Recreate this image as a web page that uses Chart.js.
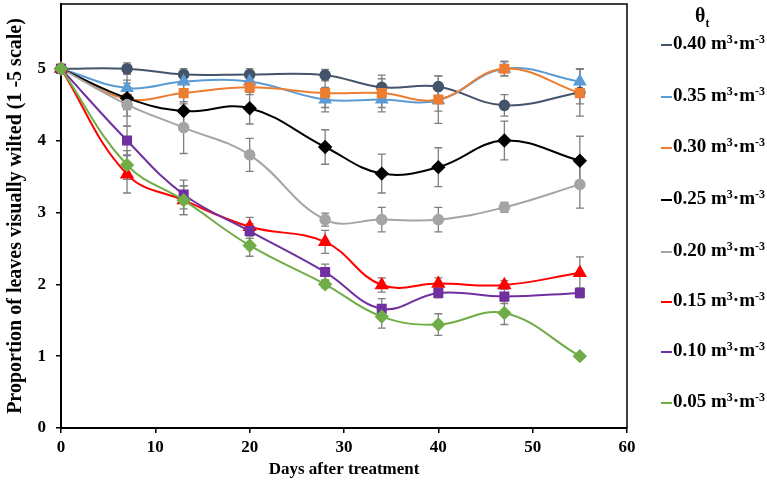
<!DOCTYPE html>
<html>
<head>
<meta charset="utf-8">
<script src="https://cdn.jsdelivr.net/npm/chart.js@4/dist/chart.umd.min.js"></script>
<style>
  body { margin: 0; background: #fff; }
  #wrap { position: relative; width: 767px; height: 484px; }
  #legend { position: absolute; left: 661px; top: 0; width: 106px; font-family: "Liberation Serif", "Times New Roman", serif; font-weight: bold; font-size: 19px; color: #000; }
  #legend .title { position: absolute; left: 34px; top: 4px; font-size: 20px; }
  #legend .title sub { font-size: 12px; }
  #legend .item { position: absolute; left: 0; white-space: nowrap; line-height: 20px; }
  #legend .item i { display: inline-block; width: 11px; height: 2px; vertical-align: middle; margin-right: 1px; }
  #legend sup { font-size: 12px; vertical-align: 6px; line-height: 0; }
</style>
</head>
<body>
<div id="wrap">
  <canvas id="myChart" width="767" height="484"></canvas>
  <div id="legend"></div>
</div>
<script>
// data
const days = [0, 7, 13, 20, 28, 34, 40, 47, 55];
const seriesNames = ['0.40', '0.35', '0.30', '0.25', '0.20', '0.15', '0.10', '0.05'];
const v040 = [5, 5.0, 4.92, 4.92, 4.91, 4.74, 4.75, 4.49, 4.67];
const v035 = [5, 4.73, 4.82, 4.82, 4.57, 4.57, 4.56, 5.0, 4.82];
const v030 = [5, 4.58, 4.66, 4.74, 4.66, 4.66, 4.57, 5.0, 4.66];
const v025 = [5, 4.59, 4.41, 4.45, 3.91, 3.54, 3.63, 4.0, 3.72];
const v020 = [5, 4.5, 4.18, 3.8, 2.9, 2.9, 2.9, 3.07, 3.39];
const v015 = [5, 3.53, 3.17, 2.8, 2.59, 1.99, 2.01, 1.99, 2.16];
const v010 = [5, 4.0, 3.25, 2.74, 2.17, 1.66, 1.88, 1.83, 1.88];
const v005 = [5, 3.66, 3.17, 2.54, 2.0, 1.55, 1.44, 1.6, 1.0];
// standard errors
const e040 = [0, 0.08, 0.08, 0.08, 0.08, 0.17, 0.15, 0.15, 0.33];
const e035 = [0, 0.2, 0.15, 0.15, 0.17, 0.17, 0.15, 0.1, 0.17];
const e030 = [0, 0.15, 0.15, 0.1, 0.2, 0.2, 0.33, 0.1, 0.15];
const e025 = [0, 0.25, 0.2, 0.22, 0.24, 0.27, 0.27, 0.27, 0.34];
const e020 = [0, 0.3, 0.36, 0.23, 0.09, 0.17, 0.17, 0.07, 0.33];
const e015 = [0, 0.26, 0.2, 0.13, 0.16, 0.1, 0.08, 0.06, 0.22];
const e010 = [0, 0.2, 0.2, 0.1, 0.11, 0.14, 0.07, 0.1, 0.07];
const e005 = [0, 0.2, 0.2, 0.15, 0.05, 0.16, 0.15, 0.16, 0];
const yTicks = [0, 1, 2, 3, 4, 5];

const values = [v040, v035, v030, v025, v020, v015, v010, v005];
const errors = [e040, e035, e030, e025, e020, e015, e010, e005];
const colors = ['#44546A', '#5B9BD5', '#ED7D31', '#000000', '#A5A5A5', '#FF0000', '#7030A0', '#70AD47'];
const markers = ['circle', 'triangle', 'rect', 'rectRot', 'circle', 'triangle', 'rect', 'rectRot'];
const sizes = [4.8, 6, 5.7, 5.8, 4.8, 6.3, 5.7, 5.8];

const FONT = '"Liberation Serif", "Times New Roman", serif';

/* error bars, drawn under the markers */
const errorBars = {
  id: 'errorBars',
  beforeDatasetsDraw(chart) {
    const ctx = chart.ctx;
    const xs = chart.scales.x, ys = chart.scales.y;
    ctx.save();
    ctx.strokeStyle = '#7F7F7F';
    ctx.lineWidth = 1.3;
    errors.forEach(function(err, s) {
      err.forEach(function(e, i) {
        if (!e) return;
        const px = xs.getPixelForValue(days[i]);
        const top = ys.getPixelForValue(values[s][i] + e);
        const bot = ys.getPixelForValue(values[s][i] - e);
        ctx.beginPath();
        ctx.moveTo(px, top); ctx.lineTo(px, bot);
        ctx.moveTo(px - 4, top); ctx.lineTo(px + 4, top);
        ctx.moveTo(px - 4, bot); ctx.lineTo(px + 4, bot);
        ctx.stroke();
      });
    });
    ctx.restore();
  }
};

/* box around plot */
const frame = {
  id: 'frame',
  afterDraw(chart) {
    const a = chart.chartArea, ctx = chart.ctx;
    ctx.save();
    ctx.strokeStyle = '#000';
    ctx.lineWidth = 1.5;
    ctx.beginPath();
    ctx.moveTo(a.left, a.top); ctx.lineTo(a.right, a.top); ctx.lineTo(a.right, a.bottom);
    ctx.stroke();
    ctx.restore();
  }
};

function chartWilt() {
  const ctx = document.getElementById('myChart').getContext('2d');
  // later series are drawn on top, like the original
  const datasets = values.map(function(v, s) {
    return {
      label: seriesNames[s] + ' m³·m⁻³',
      data: days.map(function(d, i) { return { x: d, y: v[i] }; }),
      borderColor: colors[s],
      backgroundColor: colors[s],
      borderWidth: 2,
      pointStyle: markers[s],
      pointRadius: sizes[s],
      pointHoverRadius: sizes[s],
      showLine: true,
      tension: 0.4,
      clip: false,
      order: values.length - 1 - s
    };
  });

  new Chart(ctx, {
    type: 'scatter',
    data: { datasets: datasets },
    plugins: [errorBars, frame],
    options: {
      responsive: false,
      animation: false,
      layout: { autoPadding: false, padding: { top: 4, right: 140, left: 0, bottom: 0 } },
      plugins: { legend: { display: false }, tooltip: { enabled: false } },
      scales: {
        x: {
          type: 'linear', min: 0, max: 60,
          ticks: { stepSize: 10, color: '#000', font: { family: FONT, weight: 'bold', size: 17 }, padding: 4 },
          grid: { drawOnChartArea: false, color: '#000', tickLength: 5, lineWidth: 1.5 },
          border: { color: '#000', width: 2 },
          title: { display: true, text: 'Days after treatment', color: '#000', font: { family: FONT, weight: 'bold', size: 17 }, padding: { top: 6 } },
          afterFit: function(scale) { scale.height = 56; }
        },
        y: {
          min: 0, max: 5.9,
          afterBuildTicks: function(scale) { scale.ticks = yTicks.map(function(t) { return { value: t }; }); },
          ticks: { color: '#000', font: { family: FONT, weight: 'bold', size: 17 }, padding: 10 },
          grid: { drawOnChartArea: false, color: '#000', tickLength: 5, lineWidth: 1.5 },
          border: { color: '#000', width: 2 },
          title: { display: true, text: 'Proportion of leaves visually wilted (1 -5 scale)', color: '#000', font: { family: FONT, weight: 'bold', size: 20 }, padding: { bottom: 2 } },
          afterFit: function(scale) { scale.width = 61; scale.paddingTop = 0; scale.paddingBottom = 0; }
        }
      }
    }
  });
}

function buildLegend() {
  const box = document.getElementById('legend');
  let html = '<div class="title">θ<sub>t</sub></div>';
  const centers = [43, 95, 146, 198, 250, 300, 350, 401];
  seriesNames.forEach(function(n, s) {
    html += '<div class="item" style="top:' + (centers[s] - 10) + 'px"><i style="background:' + colors[s] + '"></i>' +
      n + ' m<sup>3</sup>·m<sup>-3</sup></div>';
  });
  box.innerHTML = html;
}

window.onload = function(){
  chartWilt(); buildLegend();
};
</script>
</body>
</html>
